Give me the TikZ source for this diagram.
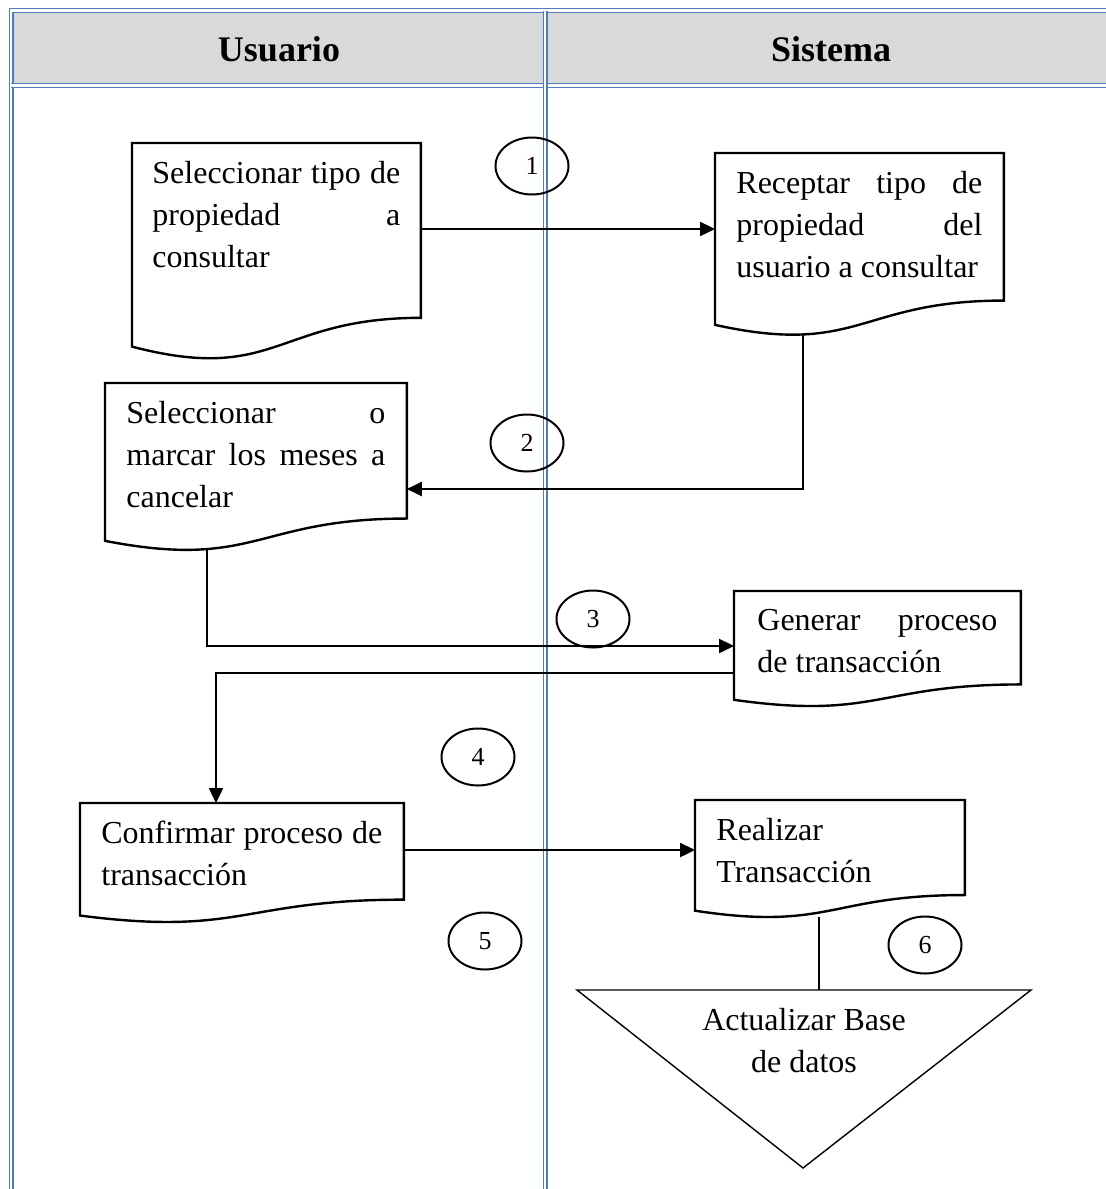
\documentclass[tikz,border=0pt]{standalone}
\usepackage{fontspec}
\setmainfont{Liberation Serif}
\usetikzlibrary{shapes.geometric}
\usetikzlibrary{arrows.meta,calc}
\definecolor{laneblue}{HTML}{4F7BC0}
\definecolor{headgray}{HTML}{D9D9D9}
\hyphenpenalty=10000
\exhyphenpenalty=10000
\tolerance=9999

\begin{document}
\begin{tikzpicture}
[x=0.5pt,y=-0.5pt,
docbox/.style ={anchor=north west, inner ysep=9pt, align=justify,
font=\fontsize{16}{21}\selectfont},
docline/.style ={draw, line width=1.2pt, line join=miter},
head/.style ={font=\fontsize{18}{22}\selectfont\bfseries},
num/.style ={ellipse, draw, line width=1pt, minimum width=36.5pt,
minimum height=28.5pt, inner sep=0pt,
font=\fontsize{13}{15}\selectfont},
laneline/.style ={draw=laneblue, line width=0.65pt, double=white,
double distance=1.2pt},
line/.style ={draw, line width=1.2pt, -{Triangle[length=7.5pt,width=7pt]}}]
\useasboundingbox (0,0) rectangle (1106,1189);
% lanes
\fill[headgray] (11,10) rectangle (1106,86);
\draw[laneline] (11,1189) -- (11,10.5) -- (1106,10.5);
\draw[laneline] (11,85.5) -- (1106,85.5);
\draw[laneline] (545,10.5) -- (545,1189);
\node[head] (usuario) at (279,49) {Usuario};
\node[head] (sistema) at (831,49) {Sistema};
% documents
\node[docbox, text width=124pt, inner xsep=10pt] (selTipo) at (132,143)
{Seleccionar tipo de\linebreak propiedad a\linebreak consultar};
\node[docbox, text width=123pt, inner xsep=10.5pt] (recTipo) at (715,153)
{Receptar tipo de propiedad del usuario a consultar};
\node[docbox, text width=129.5pt, inner xsep=10.5pt] (selMeses) at (105,383)
{Seleccionar o\linebreak marcar los meses a\linebreak cancelar};
\node[docbox, text width=120pt, inner xsep=11.5pt] (genProc) at (734,591)
{Generar proceso de transacción};
\node[docbox, text width=140.5pt, inner xsep=10.5pt] (confProc) at (80,803)
{Confirmar proceso de transacción};
\node[docbox, text width=113.5pt, inner xsep=10.5pt] (realTrans) at (695,800)
{Realizar Transacción};
\foreach \n/\h in {selTipo/218,recTipo/184,selMeses/169,genProc/116.5,confProc/120.5,realTrans/118.5}
\path[docline] (\n.north west) -- (\n.north east)
-- ($(\n.north east)+(0,0.802*\h)$)
.. controls ($(\n.north)+(0,0.802*\h)$) and ($(\n.north)+(0,1.1075*\h)$)
.. ($(\n.north west)+(0,0.934*\h)$) -- cycle;
% merge
\coordinate (triL) at (577,990);
\coordinate (triR) at (1031,990);
\coordinate (triB) at (803,1168);
\draw[line width=0.7pt] (triL) -- (triR) -- (triB) -- cycle;
\node[anchor=north, inner sep=0pt, align=center,
font=\fontsize{16}{21}\selectfont] (actBD) at (804,1008) {Actualizar Base\\de datos};
% steps
\node[num] (c1) at (532,166) {1};
\node[num] (c2) at (527,443) {2};
\node[num] (c3) at (593,619) {3};
\node[num] (c4) at (478,757) {4};
\node[num] (c5) at (485,941) {5};
\node[num] (c6) at (925,945) {6};
\coordinate (recOut) at ($(recTipo.north west)+(88,181)$);
\coordinate (mesOut) at ($(selMeses.north west)+(102,166)$);
\coordinate (realOut) at ($(realTrans.north west)+(124,117)$);
\begin{scope}[every path/.style=line]
\path ($(selTipo.north east)+(0,86)$) -- ($(recTipo.north west)+(0,76)$);
\path (recOut) |- ($(selMeses.north east)+(0,106)$);
\path (mesOut) |- ($(genProc.north west)+(0,55)$);
\path ($(genProc.north west)+(0,82)$) -| ($(confProc.north west)+(136,0)$);
\path ($(confProc.north east)+(0,47)$) -- ($(realTrans.north west)+(0,50)$);
\path[-] (realOut) -- (realOut |- triL);
\end{scope}
\end{tikzpicture}
\end{document}
